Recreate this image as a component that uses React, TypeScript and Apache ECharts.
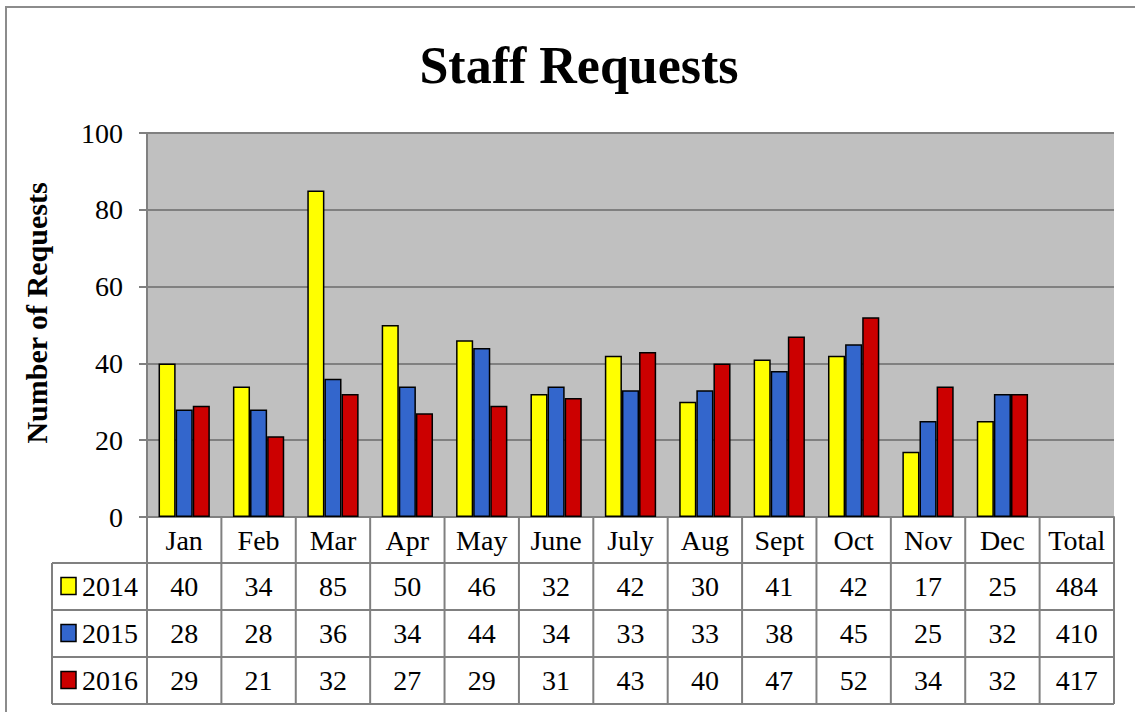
import React, { useEffect, useRef } from 'react';
import * as echarts from 'echarts';

const categories = ['Jan', 'Feb', 'Mar', 'Apr', 'May', 'June', 'July', 'Aug', 'Sept', 'Oct', 'Nov', 'Dec', 'Total'];
const seriesNames = ['2014', '2015', '2016'];
const values2014 = [40, 34, 85, 50, 46, 32, 42, 30, 41, 42, 17, 25];
const values2015 = [28, 28, 36, 34, 44, 34, 33, 33, 38, 45, 25, 32];
const values2016 = [29, 21, 32, 27, 29, 31, 43, 40, 47, 52, 34, 32];
const totals = [484, 410, 417];
const yTicks = [0, 20, 40, 60, 80, 100];
const colors = ['#FFFF00', '#3366CC', '#CC0000'];

export default function App() {
  const ref = useRef<HTMLDivElement>(null);
  useEffect(() => {
    const chart = echarts.init(ref.current!, null, { renderer: 'svg' });
    const font = 'Liberation Serif';
    const fs = 28;
    const seriesData = [values2014, values2015, values2016];
    const gridColor = '#808080';
    chart.setOption({
      animation: false,
      backgroundColor: '#ffffff',
      textStyle: { fontFamily: font },
      title: {
        text: 'Staff Requests',
        left: 574,
        top: 34,
        textAlign: 'center',
        textStyle: { fontFamily: font, fontWeight: 'bold', fontSize: 52, color: '#000' },
      },
      grid: { left: 147, top: 133, right: 21, bottom: 195, show: true, backgroundColor: '#C0C0C0', borderWidth: 0 },
      xAxis: {
        type: 'category',
        data: categories,
        axisLine: { lineStyle: { color: gridColor, width: 2 } },
        axisTick: { show: false },
        axisLabel: { interval: 0, margin: 23, verticalAlign: 'middle', fontFamily: font, fontSize: fs, color: '#000' },
      },
      yAxis: {
        type: 'value',
        min: yTicks[0],
        max: yTicks[yTicks.length - 1],
        interval: yTicks[1] - yTicks[0],
        name: 'Number of Requests',
        nameLocation: 'middle',
        nameGap: 96,
        nameRotate: 90,
        nameTextStyle: { fontFamily: font, fontWeight: 'bold', fontSize: 30, color: '#000', padding: [0, 0, 0, 24] },
        axisLine: { show: true, lineStyle: { color: gridColor, width: 2 } },
        axisTick: { show: true, length: 8, lineStyle: { color: gridColor, width: 2 } },
        axisLabel: { margin: 24, fontFamily: font, fontSize: fs, color: '#000' },
        splitLine: { lineStyle: { color: gridColor, width: 2 } },
      },
      series: seriesNames.map((n, i) => ({
        name: n,
        type: 'bar',
        data: seriesData[i],
        barGap: '0%',
        barCategoryGap: '31%',
        itemStyle: { color: colors[i], borderColor: '#000', borderWidth: 1.5 },
      })),
    });

    const c0 = chart.convertToPixel({ xAxisIndex: 0 }, categories[0]) as number;
    const c1 = chart.convertToPixel({ xAxisIndex: 0 }, categories[1]) as number;
    const band = c1 - c0;
    const left = c0 - band / 2;
    const right = left + band * categories.length;
    const yBase = chart.convertToPixel({ yAxisIndex: 0 }, 0) as number;
    const headerH = 46;
    const rowH = 47;
    const tableLeft = 52;
    const tableBottom = yBase + headerH + rowH * seriesNames.length;
    const lineStyle = { stroke: gridColor, lineWidth: 2 };
    const els: any[] = [];
    els.push({
      type: 'rect', silent: true, z: -1,
      shape: { x: 6, y: 7, width: 1300, height: 900 },
      style: { fill: 'none', stroke: '#8c8c8c', lineWidth: 2 },
    });
    for (let i = 0; i <= categories.length; i++) {
      const x = left + i * band;
      els.push({ type: 'line', silent: true, shape: { x1: x, y1: yBase, x2: x, y2: tableBottom }, style: lineStyle });
    }
    els.push({ type: 'line', silent: true, shape: { x1: tableLeft, y1: yBase + headerH, x2: tableLeft, y2: tableBottom }, style: lineStyle });
    for (let r = 0; r <= seriesNames.length; r++) {
      const y = yBase + headerH + r * rowH;
      els.push({ type: 'line', silent: true, shape: { x1: tableLeft, y1: y, x2: right, y2: y }, style: lineStyle });
    }
    seriesNames.forEach((name, r) => {
      const cy = yBase + headerH + r * rowH + rowH / 2;
      els.push({
        type: 'rect', silent: true,
        shape: { x: 61, y: cy - 9, width: 15, height: 17 },
        style: { fill: colors[r], stroke: '#000', lineWidth: 1.5 },
      });
      els.push({
        type: 'text', silent: true, x: 82, y: cy,
        style: { text: name, fontFamily: font, fontSize: fs, fill: '#000', align: 'left', verticalAlign: 'middle' },
      });
      const vals = [...seriesData[r], totals[r]];
      vals.forEach((v, i) => {
        els.push({
          type: 'text', silent: true, x: left + (i + 0.5) * band, y: cy,
          style: { text: String(v), fontFamily: font, fontSize: fs, fill: '#000', align: 'center', verticalAlign: 'middle' },
        });
      });
    });
    chart.setOption({ graphic: { elements: els } });

    return () => chart.dispose();
  }, []);
  return <div ref={ref} style={{ position: 'fixed', left: 0, top: 0, width: 1135, height: 712 }} />;
}
